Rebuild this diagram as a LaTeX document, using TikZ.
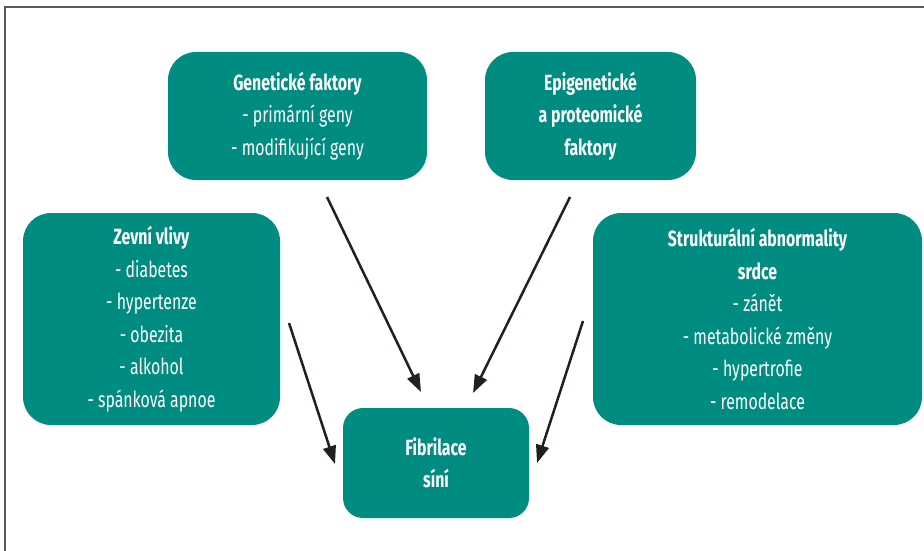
\documentclass[tikz,border=0pt]{standalone}
\usepackage{fontspec}
\setmainfont{Fira Sans}[FakeStretch=0.72]
\usetikzlibrary{arrows.meta}
\definecolor{boxteal}{RGB}{0,140,128}
\definecolor{arrowdark}{RGB}{35,31,32}

\begin{document}
\begin{tikzpicture}[x=1pt, y=-1pt,
    factor/.style={fill=boxteal, rounded corners=28pt, text=white, align=center, inner sep=0pt, font=\fontsize{22}{32.5}\selectfont},
    arrow/.style={-{Triangle[length=18pt,width=13pt]}, line width=2.5pt, draw=arrowdark},
    frame/.style={draw=black!65, line width=1.3pt}
  ]
  \useasboundingbox (0,0) rectangle (924,551);

  % Frame
  \draw[frame] (5,551) -- (5,7) -- (924,7);

  % Factors
  \node[factor, minimum width=259pt, minimum height=128pt] (gen) at (297.5,116) {\textbf{Genetické faktory}\\- primární geny\\- modifikující geny};
  \node[factor, minimum width=211pt, minimum height=128pt] (epi) at (590.5,116) {\textbf{Epigenetické}\\\textbf{a proteomické}\\\textbf{faktory}};
  \node[factor, minimum width=257pt, minimum height=212pt] (ext) at (151.5,319) {\textbf{Zevní vlivy}\\- diabetes\\- hypertenze\\- obezita\\- alkohol\\- spánková apnoe};
  \node[factor, minimum width=329pt, minimum height=212pt] (struct) at (757.5,319) {\textbf{Strukturální abnormality}\\\textbf{srdce}\\- zánět\\- metabolické změny\\- hypertrofie\\- remodelace};

  % Atrial fibrillation
  \node[factor, rounded corners=20pt, minimum width=186pt, minimum height=110pt] (fib) at (436,463) {\textbf{Fibrilace}\\\textbf{síní}};

  % Arrow ends
  \coordinate (gen-out) at (327,197);
  \coordinate (gen-in) at (421,392);
  \coordinate (epi-out) at (570,197);
  \coordinate (epi-in) at (473,393);
  \coordinate (ext-out) at (289,323);
  \coordinate (ext-in) at (335,464);
  \coordinate (struct-out) at (583,321);
  \coordinate (struct-in) at (537,463);

  % Arrows
  \draw[arrow] (gen-out) -- (gen-in);
  \draw[arrow] (epi-out) -- (epi-in);
  \draw[arrow] (ext-out) -- (ext-in);
  \draw[arrow] (struct-out) -- (struct-in);

\end{tikzpicture}
\end{document}
